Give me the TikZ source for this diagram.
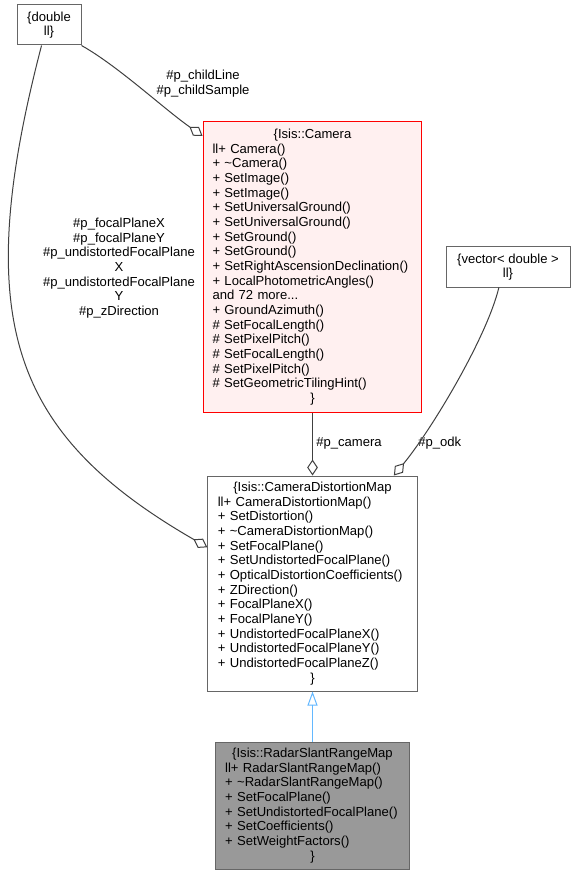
\documentclass[tikz,border=0pt]{standalone}
\usepackage{fontspec}
\setmainfont{Liberation Sans}
\usetikzlibrary{positioning, arrows.meta}
\definecolor{edgegray}{HTML}{404040}
\definecolor{boxgray}{HTML}{666666}
\definecolor{inhblue}{HTML}{63B8FF}
\definecolor{campink}{HTML}{FFF0F0}
\definecolor{radargray}{HTML}{999999}
\newcommand{\ctrrow}[1]{\hspace*{\fill}#1\hspace*{\fill}\null}

\begin{document}
\begin{tikzpicture}[x=0.75pt, y=-0.75pt,
  every node/.style={font=\fontsize{9.8pt}{11pt}\selectfont},
  cls/.style={draw=boxgray, line width=0.75pt, rectangle, inner ysep=0pt, align=left},
  ext/.style={cls, align=center, inner sep=0pt},
  lbl/.style={align=center, inner sep=0pt},
  agg/.style={draw=edgegray, line width=0.75pt, {Diamond[open, length=12pt, width=8pt]}-},
  inh/.style={draw=inhblue, line width=0.75pt, -{Triangle[open, length=10.5pt, width=7.5pt]}}]
\path[use as bounding box, fill=white] (0,0) rectangle (575,873);
% classes
\node[ext, minimum width=48pt, minimum height=30pt] (dbl) at (49,25) {\{double\\ ll\}};
\node[cls, draw=red, fill=campink, text width=150pt, inner xsep=7.1pt,
  minimum height=217.5pt] (cam) at (312.5,267) {\ctrrow{\{Isis::Camera}\\
  ll+ Camera()\\
  + \textasciitilde Camera()\\
  + SetImage()\\
  + SetImage()\\
  + SetUniversalGround()\\
  + SetUniversalGround()\\
  + SetGround()\\
  + SetGround()\\
  + SetRightAscensionDeclination()\\
  + LocalPhotometricAngles()\\
  and 72 more...\\
  + GroundAzimuth()\\
  \# SetFocalLength()\\
  \# SetPixelPitch()\\
  \# SetFocalLength()\\
  \# SetPixelPitch()\\
  \# SetGeometricTilingHint()\\
  \ctrrow{\}}};
\node[ext, minimum width=93pt, minimum height=30pt] (vec) at (508,267) {\{vector< double >\\ ll\}};
\node[cls, text width=142pt, inner xsep=7.5pt, minimum height=161.25pt,
  below=47.25pt of cam] (cdm) {\ctrrow{\{Isis::CameraDistortionMap}\\
  ll+ CameraDistortionMap()\\
  + SetDistortion()\\
  + \textasciitilde CameraDistortionMap()\\
  + SetFocalPlane()\\
  + SetUndistortedFocalPlane()\\
  + OpticalDistortionCoefficients()\\
  + ZDirection()\\
  + FocalPlaneX()\\
  + FocalPlaneY()\\
  + UndistortedFocalPlaneX()\\
  + UndistortedFocalPlaneY()\\
  + UndistortedFocalPlaneZ()\\
  \ctrrow{\}}};
\node[cls, fill=radargray, text width=131pt, inner xsep=7.6pt, minimum height=95.25pt,
  below=37.5pt of cdm] (radar) {\ctrrow{\{Isis::RadarSlantRangeMap}\\
  ll+ RadarSlantRangeMap()\\
  + \textasciitilde RadarSlantRangeMap()\\
  + SetFocalPlane()\\
  + SetUndistortedFocalPlane()\\
  + SetCoefficients()\\
  + SetWeightFactors()\\
  \ctrrow{\}}};
% edge labels
\node[lbl] (lchild) at (203,83.5) {\#p\_childLine\\ \#p\_childSample};
\node[lbl] (lfocal) at (119,268) {\#p\_focalPlaneX\\ \#p\_focalPlaneY\\ \#p\_undistortedFocalPlane\\ X\\
  \#p\_undistortedFocalPlane\\ Y\\ \#p\_zDirection};
\node[lbl, anchor=west] (lcam) at (316,443) {\#p\_camera};
\node[lbl, anchor=west] (lodk) at (418,443) {\#p\_odk};
% edges
\draw[agg] (cam.130.5) .. controls (164,109) and (118,66) .. (dbl.south east);
\draw[agg] (cdm.161) .. controls (11,434) and (-30,320) .. (dbl.250);
\draw[agg] (cdm.north) -- (cam.south);
\draw[agg] (cdm.53.6) .. controls (432,429) and (487,337) .. (vec.246);
\draw[inh] (radar.north) -- (cdm.south);
\end{tikzpicture}
\end{document}
